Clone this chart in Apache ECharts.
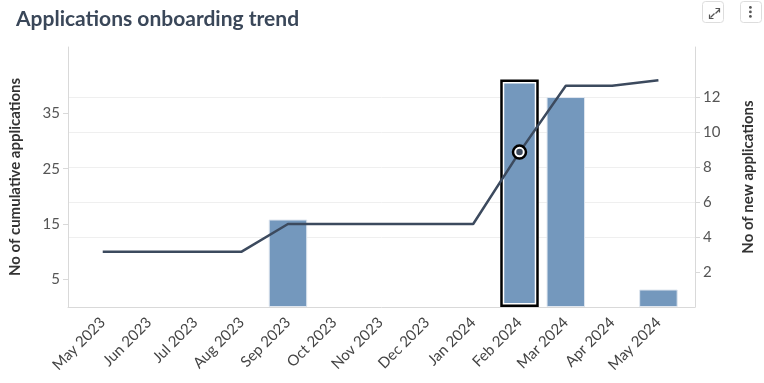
<!DOCTYPE html>
<html>
<head>
<meta charset="utf-8">
<script src="https://cdn.jsdelivr.net/npm/echarts@6/dist/echarts.min.js"></script>
<style>html,body{margin:0;padding:0;background:#fff}#c{width:764px;height:383px}</style>
</head>
<body>
<div id="c"></div>
<script>
const months = ['May 2023','Jun 2023','Jul 2023','Aug 2023','Sep 2023','Oct 2023','Nov 2023','Dec 2023','Jan 2024','Feb 2024','Mar 2024','Apr 2024','May 2024'];
const newApps = [0,0,0,0,5,0,0,0,0,13,12,0,1];
const cumulative = [10,10,10,10,15,15,15,15,15,28,40,40,41];
const leftTicks = [5,15,25,35];
const rightTicks = [2,4,6,8,10,12];
const hoverIndex = 9;

const idx = months.map((m,i)=>i);
const barColor = '#7498bd';
const lineColor = '#3c4a5e';
const grey = '#d9d9d9';
const gridCol = '#efefef';

const barData = [];
newApps.forEach((v,i)=>{
  if (v > 0) {
    const item = {value:[i,v]};
    if (i === hoverIndex) item.itemStyle = {borderColor:'#fff', borderWidth:4};
    barData.push(item);
  }
});
const hoverBar = [[hoverIndex, newApps[hoverIndex]]];

const chart = echarts.init(document.getElementById('c'));
chart.setOption({
  animation:false,
  textStyle:{fontFamily:'Lato'},
  title:{text:'Applications onboarding trend', left:11, top:4,
    textStyle:{fontFamily:'Lato', fontWeight:'bold', fontSize:21, color:'#3a4759'}},
  grid:{left:68, right:69, top:47, bottom:76},
  xAxis:{type:'value', min:-0.75, max:12.79,
    axisLine:{show:true, onZero:false, lineStyle:{color:grey}},
    axisTick:{show:false}, splitLine:{show:false},
    axisLabel:{customValues:idx, formatter:v=>months[Math.round(v)], rotate:45, fontSize:15, color:'#444', margin:13, fontFamily:'Lato'}},
  yAxis:[
    {type:'value', position:'left', min:0, max:47,
      name:'No of cumulative applications', nameLocation:'middle', nameGap:45,
      nameTextStyle:{fontFamily:'Lato', fontWeight:'bold', fontSize:15, color:'#333'},
      axisLine:{show:true, onZero:false, lineStyle:{color:grey}},
      axisTick:{show:true, customValues:leftTicks, length:5, lineStyle:{color:grey}},
      axisLabel:{customValues:leftTicks, fontSize:15, color:'#555', margin:8, fontFamily:'Lato'},
      splitLine:{show:false}},
    {type:'value', position:'right', min:0, max:14.86, interval:2,
      name:'No of new applications', nameLocation:'middle', nameGap:46,
      nameTextStyle:{fontFamily:'Lato', fontWeight:'bold', fontSize:15, color:'#333'},
      axisLine:{show:true, onZero:false, lineStyle:{color:grey}},
      axisTick:{show:true, customValues:rightTicks, length:5, lineStyle:{color:grey}},
      axisLabel:{customValues:rightTicks, fontSize:15, color:'#555', margin:8, fontFamily:'Lato'},
      splitLine:{show:true, lineStyle:{color:['rgba(0,0,0,0)',gridCol,gridCol,gridCol,gridCol,gridCol,gridCol,'rgba(0,0,0,0)','rgba(0,0,0,0)'], width:1}}}
  ],
  series:[
    {type:'bar', yAxisIndex:1, barWidth:38.5, barGap:'-100%', data:barData,
      itemStyle:{color:barColor, borderColor:'#dfe6ef', borderWidth:1}, z:2},
    {type:'bar', yAxisIndex:1, barWidth:38.5, barGap:'-100%', data:hoverBar,
      itemStyle:{color:'rgba(0,0,0,0)', borderColor:'#000', borderWidth:2.5}, z:2},
    {type:'line', yAxisIndex:0, data:cumulative.map((v,i)=>[i,v]), showSymbol:false,
      lineStyle:{color:lineColor, width:2.5}, itemStyle:{color:lineColor}, z:3},
    {type:'scatter', yAxisIndex:0, data:[[hoverIndex, cumulative[hoverIndex]]], symbolSize:13,
      itemStyle:{color:'#fff', borderColor:'#000', borderWidth:2.5, opacity:1}, z:4},
    {type:'scatter', yAxisIndex:0, data:[[hoverIndex, cumulative[hoverIndex]]], symbolSize:6.5,
      itemStyle:{color:lineColor, opacity:1}, z:5}
  ],
  graphic:[
    {type:'rect', left:702, top:1, shape:{width:21, height:21, r:3}, style:{fill:'#fff', stroke:'#ddd', lineWidth:1}},
    {type:'polyline', left:708, top:11, shape:{points:[[0,5],[4,1]]}, style:{stroke:'#555', lineWidth:1.2, fill:null}},
    {type:'polyline', left:707, top:12, shape:{points:[[0,1],[0,5],[4,5]]}, style:{stroke:'#555', lineWidth:1.2, fill:null}},
    {type:'polyline', left:713, top:7, shape:{points:[[0,4],[4,0]]}, style:{stroke:'#555', lineWidth:1.2, fill:null}},
    {type:'polyline', left:713, top:6, shape:{points:[[0,0],[4,0],[4,4]]}, style:{stroke:'#555', lineWidth:1.2, fill:null}},
    {type:'rect', left:740, top:1, shape:{width:21, height:21, r:3}, style:{fill:'#fff', stroke:'#ddd', lineWidth:1}},
    {type:'circle', left:749, top:6, shape:{r:1.4}, style:{fill:'#555'}},
    {type:'circle', left:749, top:10.5, shape:{r:1.4}, style:{fill:'#555'}},
    {type:'circle', left:749, top:15, shape:{r:1.4}, style:{fill:'#555'}}
  ]
});
</script>
</body>
</html>
